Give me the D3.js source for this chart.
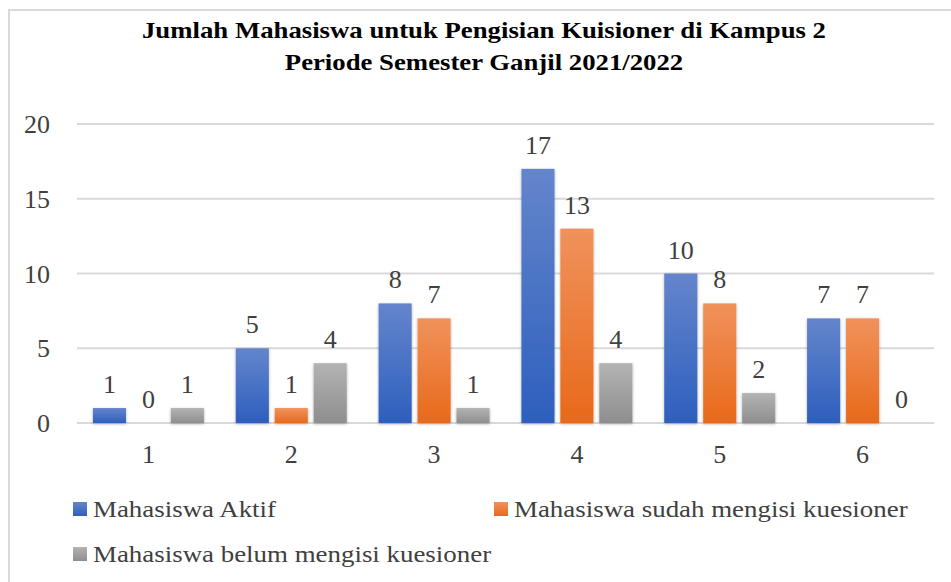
<!DOCTYPE html>
<html>
<head>
<meta charset="utf-8">
<script src="https://cdnjs.cloudflare.com/ajax/libs/d3/7.8.5/d3.min.js"></script>
<style>
  body { margin: 0; background: #fff; }
</style>
</head>
<body>
<svg width="951" height="582"></svg>
<script>
// data
var categories = ["1", "2", "3", "4", "5", "6"];
var seriesNames = ["Mahasiswa Aktif", "Mahasiswa sudah mengisi kuesioner", "Mahasiswa belum mengisi kuesioner"];
var aktif = [1, 5, 8, 17, 10, 7];
var sudah = [0, 1, 7, 13, 8, 7];
var belum = [1, 4, 1, 4, 2, 0];
var yTicks = [0, 5, 10, 15, 20];
var titleLines = ["Jumlah Mahasiswa untuk Pengisian Kuisioner di Kampus 2", "Periode Semester Ganjil 2021/2022"];

var series = [aktif, sudah, belum];
var colors = [["#6585cc", "#2d5fbd"], ["#f0925c", "#e8691a"], ["#b3b3b3", "#8e8e8e"]];
var FONT = "Liberation Serif";

var svg = d3.select("svg");
var defs = svg.append("defs");

colors.forEach(function(c, i) {
  var g = defs.append("linearGradient").attr("id", "grad" + i)
    .attr("x1", 0).attr("y1", 0).attr("x2", 0).attr("y2", 1);
  g.append("stop").attr("offset", "0%").attr("stop-color", c[0]);
  g.append("stop").attr("offset", "100%").attr("stop-color", c[1]);
});

var shadow = defs.append("filter").attr("id", "shadow")
  .attr("x", "-20%").attr("y", "-20%").attr("width", "140%").attr("height", "140%");
shadow.append("feDropShadow").attr("dx", 0).attr("dy", 1).attr("stdDeviation", 1.5)
  .attr("flood-color", "#000").attr("flood-opacity", 0.3);

// chart border
svg.append("rect").attr("x", 9).attr("y", 10).attr("width", 960).attr("height", 600)
  .attr("fill", "none").attr("stroke", "#d9d9d9").attr("stroke-width", 2);

// title (word's times is a bit wider, so stretch it)
svg.append("g").selectAll("text").data(titleLines).enter().append("text")
  .attr("transform", (d, i) => "translate(484," + (38 + i * 32) + ") scale(1.115,1)")
  .attr("text-anchor", "middle")
  .attr("font-family", FONT)
  .attr("font-size", 24).attr("font-weight", "bold").attr("fill", "#000")
  .text(d => d);

var x = d3.scaleBand().domain(categories).range([77, 934]);
var y = d3.scaleLinear().domain([0, 20]).range([423, 124]);
var x1 = d3.scaleBand().domain([0, 1, 2]).range([-55.5, 55.5]).paddingInner(0.15);

// gridlines
svg.append("g").selectAll("line").data(yTicks).enter().append("line")
  .attr("x1", 77).attr("x2", 934)
  .attr("y1", d => y(d)).attr("y2", d => y(d))
  .attr("stroke", "#d9d9d9").attr("stroke-width", 2);

// y labels
svg.append("g").selectAll("text").data(yTicks).enter().append("text")
  .attr("x", 50).attr("y", d => y(d) + 9)
  .attr("text-anchor", "end")
  .attr("font-family", FONT)
  .attr("font-size", 26).attr("fill", "#404040")
  .text(d => d);

// x labels
svg.append("g").selectAll("text").data(categories).enter().append("text")
  .attr("x", d => x(d) + x.bandwidth() / 2).attr("y", 463)
  .attr("text-anchor", "middle")
  .attr("font-family", FONT)
  .attr("font-size", 26).attr("fill", "#404040")
  .text(d => d);

// bars + value labels
series.forEach(function(vals, si) {
  var g = svg.append("g");
  g.selectAll("rect").data(vals).enter().append("rect")
    .attr("x", (d, i) => x(categories[i]) + x.bandwidth() / 2 + x1(si))
    .attr("width", x1.bandwidth())
    .attr("y", d => y(d))
    .attr("height", d => y(0) - y(d))
    .attr("fill", "url(#grad" + si + ")")
    .attr("filter", "url(#shadow)");
  g.selectAll("text").data(vals).enter().append("text")
    .attr("x", (d, i) => x(categories[i]) + x.bandwidth() / 2 + x1(si) + x1.bandwidth() / 2)
    .attr("y", d => y(d) - 15)
    .attr("text-anchor", "middle")
    .attr("font-family", FONT)
    .attr("font-size", 26).attr("fill", "#404040")
    .text(d => d);
});

// legend
var legendPos = [[73, 517], [494, 517], [73, 562]];
var leg = svg.append("g").selectAll("g").data(seriesNames).enter().append("g")
  .attr("transform", (d, i) => "translate(" + legendPos[i][0] + "," + legendPos[i][1] + ")");
leg.append("rect").attr("x", 0).attr("y", -15).attr("width", 14).attr("height", 14)
  .attr("fill", (d, i) => "url(#grad" + i + ")");
leg.append("text")
  .attr("transform", "translate(20,0) scale(1.17,1)")
  .attr("font-family", FONT)
  .attr("font-size", 23).attr("fill", "#404040")
  .text(d => d);
</script>
</body>
</html>
